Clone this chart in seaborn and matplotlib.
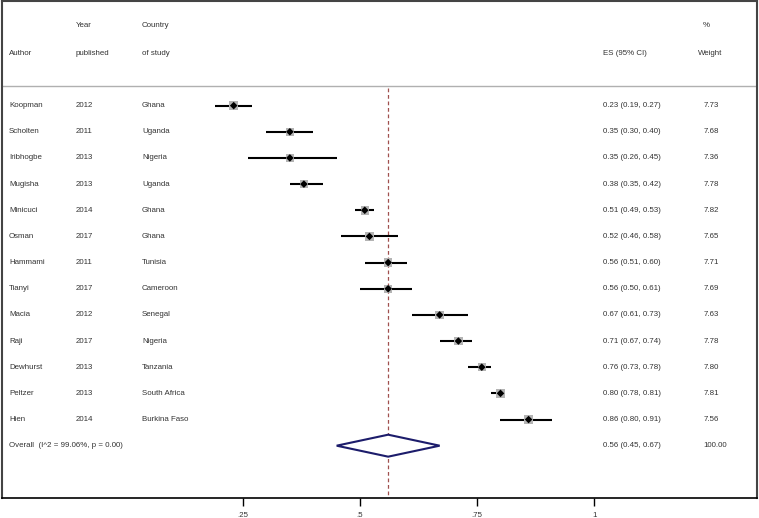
import pandas as pd
import matplotlib.pyplot as plt
import seaborn as sns

# Study data
authors = ['Koopman', 'Scholten', 'Iribhogbe', 'Mugisha', 'Minicuci', 'Osman', 'Hammami',
           'Tianyi', 'Macia', 'Raji', 'Dewhurst', 'Peltzer', 'Hien']
years = ['2012', '2011', '2013', '2013', '2014', '2017', '2011', '2017', '2012', '2017',
         '2013', '2013', '2014']
countries = ['Ghana', 'Uganda', 'Nigeria', 'Uganda', 'Ghana', 'Ghana', 'Tunisia', 'Cameroon',
             'Senegal', 'Nigeria', 'Tanzania', 'South Africa', 'Burkina Faso']
es = [0.23, 0.35, 0.35, 0.38, 0.51, 0.52, 0.56, 0.56, 0.67, 0.71, 0.76, 0.80, 0.86]
lo = [0.19, 0.30, 0.26, 0.35, 0.49, 0.46, 0.51, 0.50, 0.61, 0.67, 0.73, 0.78, 0.80]
hi = [0.27, 0.40, 0.45, 0.42, 0.53, 0.58, 0.60, 0.61, 0.73, 0.74, 0.78, 0.81, 0.91]
weights = [7.73, 7.68, 7.36, 7.78, 7.82, 7.65, 7.71, 7.69, 7.63, 7.78, 7.80, 7.81, 7.56]

overall_es, overall_lo, overall_hi = 0.56, 0.45, 0.67
overall_label = 'Overall  (I^2 = 99.06%, p = 0.00)'

xticks = [0.25, 0.5, 0.75, 1]
xtick_labels = ['.25', '.5', '.75', '1']

df = pd.DataFrame({'author': authors, 'year': years, 'country': countries,
                   'es': es, 'lo': lo, 'hi': hi, 'weight': weights})
df['row'] = range(len(df))

sns.set_theme(style='white')
plt.rcParams['font.family'] = ['Liberation Sans', 'DejaVu Sans']

fig = plt.figure(figsize=(7.59, 5.18), dpi=100)
ax = fig.add_axes([2 / 759, 1 - 498 / 518, 755 / 759, 497 / 518])

txt = '#333333'
fs = 5.7

# confidence intervals
ax.hlines(df['row'], df['lo'], df['hi'], color='black', linewidth=1.5, zorder=2)
# weight boxes and point estimates
sns.scatterplot(data=df, x='es', y='row', marker='s', s=df['weight'] * 4.8,
                color='#b4b4b4', edgecolor='none', ax=ax, zorder=3, legend=False)
sns.scatterplot(data=df, x='es', y='row', marker='D', s=15,
                color='black', edgecolor='none', ax=ax, zorder=4, legend=False)

# pooled estimate diamond
n = len(df)
ax.fill([overall_lo, overall_es, overall_hi, overall_es],
        [n, n - 0.42, n, n + 0.42], facecolor='white', edgecolor='#1c1c6b',
        linewidth=1.5, zorder=3)

# overall effect line
ax.vlines(overall_es, -0.67, 15, color='#a0504f', linewidth=0.9,
          linestyles=(0, (3, 2.2)), zorder=1)

# header separator
ax.axhline(-0.75, color='#b0b0b0', linewidth=1)

# text columns
x_author, x_year, x_country, x_es, x_wt = -0.25, -0.107, 0.034, 1.019, 1.233
ax.text(x_year, -3.05, 'Year', fontsize=fs, color=txt, va='center')
ax.text(x_country, -3.05, 'Country', fontsize=fs, color=txt, va='center')
ax.text(x_wt, -3.05, '%', fontsize=fs, color=txt, va='center')
ax.text(x_author, -2.0, 'Author', fontsize=fs, color=txt, va='center')
ax.text(x_year, -2.0, 'published', fontsize=fs, color=txt, va='center')
ax.text(x_country, -2.0, 'of study', fontsize=fs, color=txt, va='center')
ax.text(x_es, -2.0, 'ES (95% CI)', fontsize=fs, color=txt, va='center')
ax.text(x_wt - 0.011, -2.0, 'Weight', fontsize=fs, color=txt, va='center')

for _, r in df.iterrows():
    y = r['row']
    ax.text(x_author, y, r['author'], fontsize=fs, color=txt, va='center')
    ax.text(x_year, y, r['year'], fontsize=fs, color=txt, va='center')
    ax.text(x_country, y, r['country'], fontsize=fs, color=txt, va='center')
    ax.text(x_es, y, f"{r['es']:.2f} ({r['lo']:.2f}, {r['hi']:.2f})",
            fontsize=fs, color=txt, va='center')
    ax.text(x_wt, y, f"{r['weight']:.2f}", fontsize=fs, color=txt, va='center')

ax.text(x_author, n, overall_label, fontsize=fs, color=txt, va='center')
ax.text(x_es, n, f'{overall_es:.2f} ({overall_lo:.2f}, {overall_hi:.2f})',
        fontsize=fs, color=txt, va='center')
ax.text(x_wt, n, '100.00', fontsize=fs, color=txt, va='center')

ax.set_xlim(-0.265, 1.348)
ax.set_ylim(15, -4)
ax.set_xticks(xticks)
ax.set_xticklabels(xtick_labels, fontsize=fs, color=txt)
ax.set_yticks([])
ax.set_xlabel('')
ax.set_ylabel('')
ax.tick_params(axis='x', direction='out', length=6, width=1, color='black',
               bottom=True, pad=4)

for side in ['left', 'top', 'right']:
    ax.spines[side].set_color('#444444')
    ax.spines[side].set_linewidth(1.5)
ax.spines['bottom'].set_color('black')
ax.spines['bottom'].set_linewidth(1.2)

fig.savefig('out.png', dpi=100)
